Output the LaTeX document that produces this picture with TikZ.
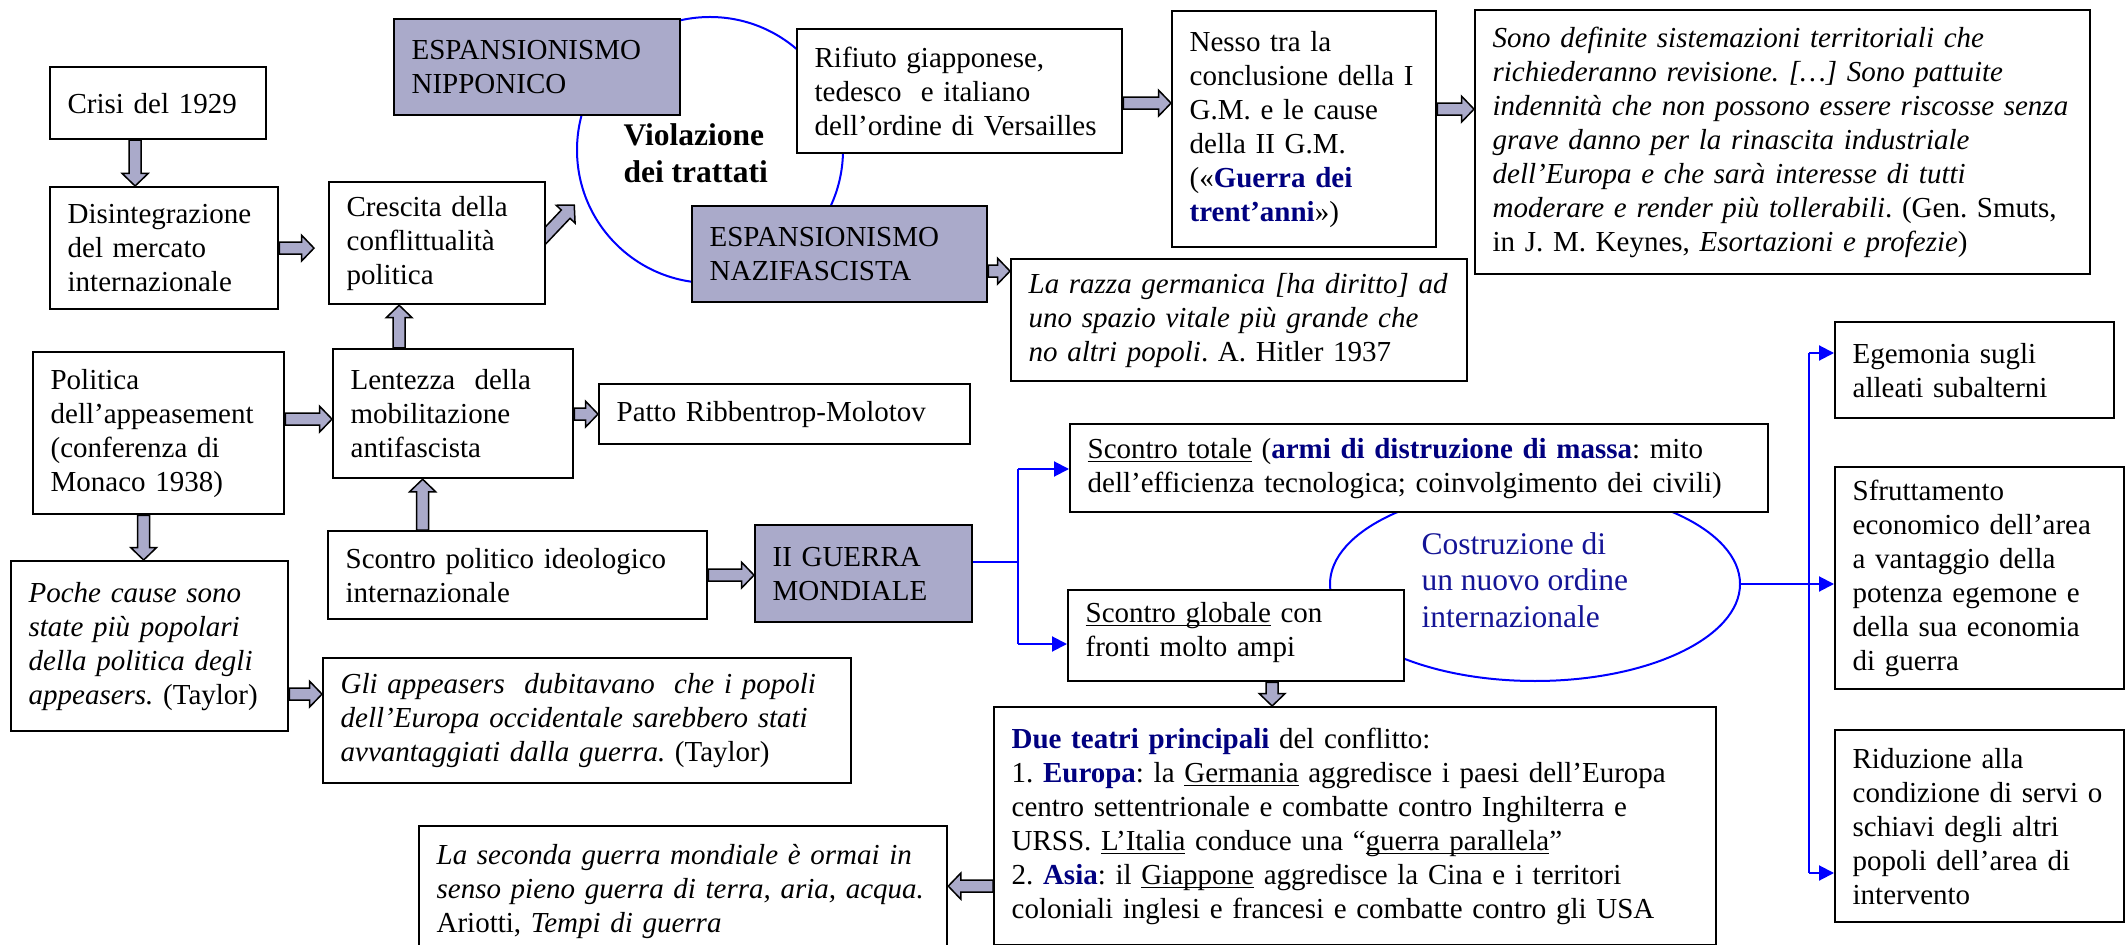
\documentclass[tikz,border=0pt]{standalone}
\usepackage{fontspec}
\setmainfont{Liberation Serif}
\usetikzlibrary{calc,shapes.geometric,arrows.meta,backgrounds}

\definecolor{lav}{RGB}{170,170,202}
\definecolor{navy}{RGB}{0,0,128}
\definecolor{costrblu}{RGB}{20,20,150}

\newcommand\kw[1]{\textbf{\textcolor{navy}{#1}}}
\newcommand\undl[1]{\underline{\smash{#1}}}

\tikzset{
  box/.style 2 args={draw, line width=0.9pt, fill=white, anchor=north west,
    inner xsep=7pt, inner ysep=0pt, align=left,
    minimum width=#1*0.4pt, minimum height=#2*0.4pt,
    /utils/exec={\pgfmathsetmacro\boxtw{#1*0.4-14}}, text width=\boxtw pt},
  blockarrow/.style={fill=lav, draw=black, line width=0.6pt},
  blueline/.style={draw=blue, line width=0.8pt},
  bluearrow/.style={blueline, -{Triangle[length=6pt,width=6pt]}}
}

% block arrow from #1 to #2
\newcommand\blk[2]{%
  \path #1 coordinate (ba) #2 coordinate (bb);
  \filldraw[blockarrow] let \p1=($(bb)!5pt!(ba)$) in
    ($(ba)!2.4pt!90:(bb)$) -- ($(\p1)!2.4pt!90:(bb)$) -- ($(\p1)!5.2pt!90:(bb)$) -- (bb)
    -- ($(\p1)!5.2pt!-90:(bb)$) -- ($(\p1)!2.4pt!-90:(bb)$) -- ($(ba)!2.4pt!-90:(bb)$) -- cycle;}

\begin{document}
\frenchspacing
\begin{tikzpicture}[x=0.4pt, y=-0.4pt, font=\fontsize{11.6}{13.6}\selectfont]
  \useasboundingbox (0,0) rectangle (2127,945);

  \node[circle, draw=blue, line width=0.8pt, minimum size=106.4pt, inner sep=0pt] (viol) at (710,150) {};
  \node[anchor=north west, inner sep=0pt, align=left, font=\bfseries\fontsize{12.6}{14.8}\selectfont] (violtxt) at (623,123) {Violazione\\dei trattati};
  \node[ellipse, draw=blue, line width=0.8pt, minimum width=164pt, minimum height=77.6pt] (costr) at (1535,584) {};
  \node[anchor=west, inner sep=0pt, align=left, text=costrblu, font=\fontsize{12.6}{14.6}\selectfont] (costrtxt) at (1421,580) {Costruzione di\\un nuovo ordine\\internazionale};

  \node[box={216}{72}] (crisi) at (49,66) {Crisi del 1929};
  \node[box={228}{122}] (disint) at (49,186) {Disintegrazione\\del mercato\\internazionale};
  \node[box={216}{122}] (crescita) at (328,181) {Crescita della\\conflittualità\\politica};
  \node[box={286}{96}, fill=lav] (nippon) at (393,18) {ESPANSIONISMO\\NIPPONICO};
  \node[box={325}{124}] (rifiuto) at (796,28) {Rifiuto giapponese,\\tedesco\ \ e italiano\\dell’ordine di Versailles};
  \node[box={264}{236}] (nesso) at (1171,10) {Nesso tra la\\conclusione della I\\G.M. e le cause\\della II G.M.\\(«\kw{Guerra dei}\\\kw{trent’anni}»)};
  \node[box={615}{264}] (sono) at (1474,9) {{\itshape Sono definite sistemazioni territoriali che\\richiederanno revisione. […] Sono pattuite\\indennità che non possono essere riscosse senza\\grave danno per la rinascita industriale\\dell’Europa e che sarà interesse di tutti\\moderare e render più tollerabili}. (Gen. Smuts,\\in J. M. Keynes, \textit{Esortazioni e profezie})};
  \node[box={295}{96}, fill=lav] (nazif) at (691,205) {ESPANSIONISMO\\NAZIFASCISTA};
  \node[box={456}{122}] (razza) at (1010,258) {{\itshape La razza germanica [ha diritto] ad\\uno spazio vitale più grande che\\no altri popoli}. A. Hitler 1937};
  \node[box={251}{162}] (politica) at (32,351) {Politica\\dell’appeasement\\(conferenza di\\Monaco 1938)};
  \node[box={240}{129}] (lentezza) at (332,348) {Lentezza\ \ della\\mobilitazione\\antifascista};
  \node[box={371}{60}] (patto) at (598,383) {Patto Ribbentrop-Molotov};
  \node[box={379}{88}] (scontropol) at (327,530) {Scontro politico ideologico\\internazionale};
  \node[box={217}{97}, fill=lav] (guerra) at (754,524) {II GUERRA\\MONDIALE};
  \node[box={277}{170}] (poche) at (10,560) {{\itshape Poche cause sono\\state più popolari\\della politica degli\\appeasers.} (Taylor)};
  \node[box={528}{125}] (gli) at (322,657) {{\itshape Gli appeasers\ \ dubitavano\ \ che i popoli\\dell’Europa occidentale sarebbero stati\\avvantaggiati dalla guerra.} (Taylor)};
  \node[box={528}{130}] (laseconda) at (418,825) {{\itshape La seconda guerra mondiale è ormai in\\senso pieno guerra di terra, aria, acqua.}\\Ariotti, \textit{Tempi di guerra}};
  \node[box={698}{88}] (totale) at (1069,423) {\undl{Scontro totale} (\kw{armi di distruzione di massa}: mito\\dell’efficienza tecnologica; coinvolgimento dei civili)};
  \node[box={336}{91}] (globale) at (1067,589) {\undl{Scontro globale} con\\fronti molto ampi};
  \node[box={722}{238}] (due) at (993,706) {\kw{Due teatri principali} del conflitto:\\1. \kw{Europa}: la \undl{Germania} aggredisce i paesi dell’Europa\\centro settentrionale e combatte contro Inghilterra e\\URSS. \undl{L’Italia} conduce una “\undl{guerra parallela}”\\2. \kw{Asia}: il \undl{Giappone} aggredisce la Cina e i territori\\coloniali inglesi e francesi e combatte contro gli USA};
  \node[box={279}{96}] (egemonia) at (1834,321) {Egemonia sugli\\alleati subalterni};
  \node[box={289}{222}] (sfrutt) at (1834,466) {Sfruttamento\\economico dell’area\\a vantaggio della\\potenza egemone e\\della sua economia\\di guerra};
  \node[box={289}{192}] (riduz) at (1834,729) {Riduzione alla\\condizione di servi o\\schiavi degli altri\\popoli dell’area di\\intervento};

  \blk{($(crisi.south)+(-23,0)$)}{(disint.north -| ba)}
  \blk{(disint.east)}{($(crescita.west |- disint.east)+(-14,0)$)}
  \begin{scope}[on background layer]
    \blk{($(crescita.east)+(-8,0)$)}{($(crescita.east)+(28,-38)$)}
  \end{scope}
  \blk{($(lentezza.north)+(-54,0)$)}{(crescita.south -| ba)}
  \blk{($(politica.east)+(0,-14)$)}{(lentezza.west |- ba)}
  \blk{(lentezza.east |- patto.west)}{(patto.west)}
  \blk{($(scontropol.north)+(-95,0)$)}{(lentezza.south -| ba)}
  \blk{(scontropol.east)}{(guerra.west |- scontropol.east)}
  \blk{($(politica.south)+(-15,0)$)}{(poche.north -| ba)}
  \blk{($(poche.east)+(0,48)$)}{(gli.west |- ba)}
  \blk{($(rifiuto.east)+(0,12)$)}{(nesso.west |- ba)}
  \blk{($(nesso.east)+(0,-20)$)}{(sono.west |- ba)}
  \blk{($(nazif.east)+(0,17)$)}{(razza.west |- ba)}
  \blk{($(globale.south)+(36,0)$)}{(due.north -| ba)}
  \blk{($(due.west)+(0,60)$)}{(laseconda.east |- ba)}

  \coordinate (lbmid) at (1018,562);
  \coordinate (lbtop) at (1018,469);
  \coordinate (lbbot) at (1018,644);
  \draw[blueline] (guerra.east |- lbmid) -- (lbmid);
  \draw[blueline] (lbtop) -- (lbbot);
  \draw[bluearrow] (lbtop) -- (totale.west |- lbtop);
  \draw[bluearrow] (lbbot) -- (globale.west |- lbbot);

  \coordinate (rbtop) at (1809,353);
  \coordinate (rbbot) at (1809,873);
  \draw[blueline] (rbtop) -- (rbbot);
  \draw[bluearrow] (costr.east) -- (sfrutt.west |- costr.east);
  \draw[bluearrow] (rbtop) -- (egemonia.west |- rbtop);
  \draw[bluearrow] (rbbot) -- (riduz.west |- rbbot);
\end{tikzpicture}
\end{document}
